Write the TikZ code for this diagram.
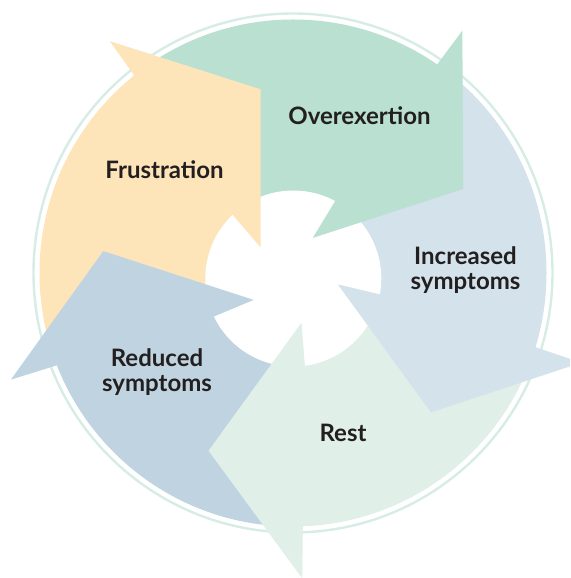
\documentclass[tikz,border=0pt]{standalone}
\usepackage{fontspec}
\setmainfont{Lato}
\usetikzlibrary{calc}

\definecolor{overexcol}{RGB}{185,224,208}
\definecolor{frustcol}{RGB}{253,229,185}
\definecolor{incrcol}{RGB}{211,226,235}
\definecolor{restcol}{RGB}{224,239,232}
\definecolor{reducedcol}{RGB}{191,212,224}
\definecolor{ringcol}{RGB}{214,236,228}
\definecolor{inkcol}{RGB}{35,31,32}

\tikzset{
  cyclelabel/.style={text=inkcol, font=\fontsize{24}{25}\selectfont\bfseries,
    align=center, inner sep=0pt, anchor=base},
}

\begin{document}
\begin{tikzpicture}[x=1pt, y=1pt]
  \useasboundingbox (0,0) rectangle (570,578);
  \clip (0,0) rectangle (570,578);

  % hub of the pinwheel and centre of the outer disc
  \coordinate (P) at (293.3,299.5);
  \coordinate (Q) at (293,305);

  % thin outer ring
  \draw[ringcol, line width=2.4pt] (Q) circle[radius=259.5pt];

  % curved bodies of the five arrows, cut to the disc
  \begin{scope}
    \clip (Q) circle[radius=253.5pt];
    \foreach \k/\col in {0/overexcol, 1/incrcol, 2/restcol, 3/reducedcol, 4/frustcol}{
      \pgfmathsetmacro{\phi}{55.7-72*\k}
      \pgfmathsetmacro{\tail}{\phi+69.3}
      \pgfmathsetmacro{\stop}{\phi-0.7}
      \fill[\col] (P) -- ($(P)+(\tail:420pt)$)
        arc[start angle=\tail, end angle=\stop, radius=420pt] -- cycle;
    }
  \end{scope}

  % empty hub
  \fill[white] (P) circle[radius=88pt];

  % arrow heads, laid over the tail of the following arrow
  \foreach \k/\col in {0/overexcol, 1/incrcol, 2/restcol, 3/reducedcol, 4/frustcol}{
    \pgfmathsetmacro{\phi}{55.7-72*\k}
    \fill[\col] ($(P)+(\phi:300pt)$) -- ($(P)+(\phi-27.9:192pt)$)
      -- ($(P)+(\phi+8.7:45pt)$) -- ($(P)+(\phi+5.9:88pt)$) -- cycle;
  }

  % labels (two-line labels sit on the baseline of their last line)
  \node[cyclelabel] (overex) at (359.5,453) {Overexertion};
  \node[cyclelabel] (frust) at (164.5,399) {Frustration};
  \node[cyclelabel] (incr) at (465.5,288) {Increased\\symptoms};
  \node[cyclelabel] (reduced) at (157,186) {Reduced\\symptoms};
  \node[cyclelabel] (rest) at (343,136) {Rest};
\end{tikzpicture}
\end{document}
